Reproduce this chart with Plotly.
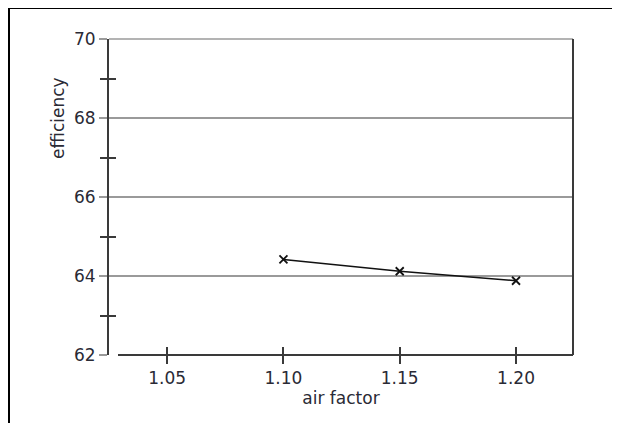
import plotly.graph_objects as go

air_factor = [1.10, 1.15, 1.20]
efficiency = [64.42, 64.12, 63.88]
x_ticks = [1.05, 1.10, 1.15, 1.20]
x_tick_labels = ["1.05", "1.10", "1.15", "1.20"]
y_ticks = [62, 64, 66, 68, 70]
y_tick_labels = ["62", "64", "66", "68", "70"]
y_minor_ticks = [63, 65, 67, 69]

# the page body has an 8px margin, so the figure is drawn 8px in from the window edge
OFF = 8
W, H = 620 - OFF, 423 - OFF
L, T = 109 - OFF, 39 - OFF
pw, ph = 464, 316
R = W - L - pw
B = H - T - ph

def px_x(px):
    return (px - OFF - L) / pw

def px_y(py):
    return (T + ph - (py - OFF)) / ph

FONT = "DejaVu Sans, Verdana, sans-serif"
FS = 17
AXC = "#3a3a3a"
GRIDC = "#9a9a9a"
TXT = "#2a2a35"

fig = go.Figure()
fig.add_trace(go.Scatter(
    x=air_factor, y=efficiency, mode="lines+markers",
    line=dict(color="#111111", width=1.5),
    marker=dict(symbol="x-thin-open", size=8, line=dict(color="#111111", width=1.8), color="#111111"),
    showlegend=False,
))
# invisible trace on overlay axes so their (inside) ticks render
fig.add_trace(go.Scatter(x=air_factor, y=efficiency, mode="markers", opacity=0,
                         xaxis="x2", yaxis="y2", showlegend=False, hoverinfo="skip"))

xr = [1.025, 1.2245]
yr = [62, 70]

fig.update_layout(
    width=W, height=H,
    margin=dict(l=L, r=R, t=T, b=B),
    paper_bgcolor="white", plot_bgcolor="white",
    font=dict(family=FONT, size=FS, color=TXT),
    xaxis=dict(
        range=xr, tickvals=x_ticks, ticktext=x_tick_labels,
        ticks="outside", ticklen=8, tickwidth=1.5, tickcolor=AXC,
        showgrid=False, zeroline=False, showline=False,
        tickfont=dict(size=FS, color=TXT),
        title=dict(text="air factor", font=dict(size=FS, color=TXT), standoff=4),
    ),
    yaxis=dict(
        range=yr, tickvals=y_ticks, ticktext=y_tick_labels,
        ticks="outside", ticklen=8, tickwidth=1.5, tickcolor=GRIDC,
        showgrid=True, gridcolor=GRIDC, gridwidth=1.5,
        zeroline=False, showline=True, linecolor=AXC, linewidth=2,
        tickfont=dict(size=FS, color=TXT),
        minor=dict(tickvals=y_minor_ticks, ticks="outside", ticklen=7,
                   tickwidth=1.5, tickcolor=AXC, showgrid=False),
    ),
    xaxis2=dict(
        range=xr, overlaying="x", tickvals=x_ticks, ticks="inside", ticklen=8,
        tickwidth=1.5, tickcolor=AXC, showticklabels=False, showgrid=False,
        zeroline=False, showline=False,
    ),
    yaxis2=dict(
        range=yr, overlaying="y", tickvals=y_minor_ticks, ticks="inside",
        ticklen=7, tickwidth=1.5, tickcolor=AXC, showticklabels=False,
        showgrid=False, zeroline=False, showline=False,
    ),
    shapes=[
        # top edge of plot: grey like the gridlines
        dict(type="line", xref="paper", yref="paper", x0=0, x1=1.0, y0=1, y1=1,
             line=dict(color=GRIDC, width=1.5), layer="below"),
        # bottom axis line (starts slightly right of the y axis)
        dict(type="line", xref="paper", yref="paper", x0=px_x(118), x1=1.0, y0=0, y1=0,
             line=dict(color=AXC, width=2), layer="above"),
        # right frame line
        dict(type="line", xref="paper", yref="paper", x0=1.0, x1=1.0, y0=0, y1=1,
             line=dict(color=AXC, width=2), layer="above"),
        # outer frame: top and left edges
        dict(type="line", xref="paper", yref="paper", x0=px_x(9), x1=px_x(625), y0=px_y(8), y1=px_y(8),
             line=dict(color="#000000", width=2)),
        dict(type="line", xref="paper", yref="paper", x0=px_x(9), x1=px_x(9), y0=px_y(8), y1=px_y(430),
             line=dict(color="#000000", width=2)),
    ],
    annotations=[
        dict(text="efficiency", textangle=-90, xref="paper", yref="paper",
             x=px_x(58), y=px_y(118), xanchor="center", yanchor="middle",
             showarrow=False, font=dict(size=FS, color=TXT)),
    ],
)

fig.write_html("out.html")
